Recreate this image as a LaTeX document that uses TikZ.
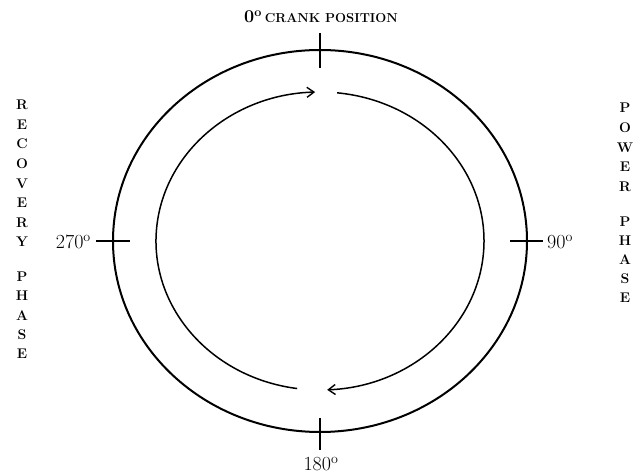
\documentclass[tikz,border=0pt]{standalone}
\usetikzlibrary{arrows.meta,calc}
\begin{document}
\begin{tikzpicture}[x=1pt,y=1pt,
  ring/.style={line width=2pt},
  flow/.style={line width=1.5pt},
  tick/.style={line width=1.5pt},
  tip/.style={-{Straight Barb[length=7pt,width=10pt,line width=1.4pt]}},
  deg/.style={font=\fontsize{20}{20}\selectfont, inner sep=1pt},
  vlet/.style={font=\bfseries\fontsize{14}{14}\selectfont, inner sep=0pt}]
\useasboundingbox (0,0) rectangle (635,474);
\coordinate (c) at (320,233);
% outer ring
\draw[ring] (c) ellipse [x radius=207, y radius=191];
% inner arcs (clockwise)
\draw[flow,tip] ($(c)+(84:164 and 149)$) arc[start angle=84, end angle=-87.5, x radius=164, y radius=149];
\draw[flow,tip] ($(c)+(262:164 and 149)$) arc[start angle=262, end angle=91.7, x radius=164, y radius=149];
% ticks
\coordinate (t1) at (320,441); \coordinate (t2) at (320,406);
\coordinate (b1) at (320,56);  \coordinate (b2) at (320,24);
\coordinate (l1) at (96,233);  \coordinate (l2) at (130,233);
\coordinate (r1) at (510,233); \coordinate (r2) at (543,233);
\draw[tick] (t1) -- (t2);
\draw[tick] (b1) -- (b2);
\draw[tick] (l1) -- (l2);
\draw[tick] (r1) -- (r2);
% labels
\node[inner sep=1pt] (top) at (321,457) {\bfseries\fontsize{18}{18}\selectfont 0\textsuperscript{o}\,{\fontsize{13}{13}\selectfont CRANK POSITION}};
\node[deg,anchor=east] (w) at (92,232) {270\textsuperscript{o}};
\node[deg,anchor=west] (e) at (546,232) {90\textsuperscript{o}};
\node[deg] (s) at (321,10) {180\textsuperscript{o}};
% vertical words
\foreach \ch [count=\i from 0] in {R,E,C,O,V,E,R,Y}
  \node[vlet] (la\i) at (22,{474-105-19.6*\i}) {\ch};
\foreach \ch [count=\i from 0] in {P,H,A,S,E}
  \node[vlet] (lb\i) at (22,{474-277-19.2*\i}) {\ch};
\foreach \ch [count=\i from 0] in {P,O,W,E,R}
  \node[vlet] (ra\i) at (625,{474-108-19.7*\i}) {\ch};
\foreach \ch [count=\i from 0] in {P,H,A,S,E}
  \node[vlet] (rb\i) at (625,{474-222-19*\i}) {\ch};
\end{tikzpicture}
\end{document}
